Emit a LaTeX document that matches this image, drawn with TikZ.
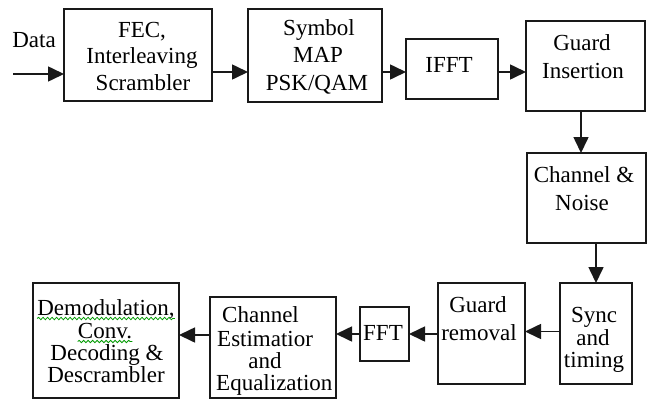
\documentclass[tikz,border=0pt]{standalone}
\usepackage{fontspec}
\setmainfont{Liberation Serif}
\usetikzlibrary{arrows.meta,calc,decorations.pathmorphing}
\begin{document}
\begin{tikzpicture}[x=1pt,y=-1pt,
  box/.style={draw=black!90, line width=1.6pt, inner sep=0pt, outer sep=0pt},
  txt/.style={anchor=base, inner sep=0pt, font=\fontsize{23}{25}\selectfont, text=black},
  arr/.style={draw=black!90, line width=1.6pt, -{Triangle[length=16pt,width=15pt]}},
  squig/.style={draw=green!60!black, line width=0.8pt, decorate, decoration={snake, amplitude=1.2pt, segment length=4.5pt}}]
\useasboundingbox (0,0) rectangle (658,402);
% boxes
\node[box, minimum width=148pt, minimum height=92pt] (fec) at (138,55) {};
\node[box, minimum width=134pt, minimum height=93pt] (sym) at (315,55.5) {};
\node[box, minimum width=92pt, minimum height=60pt] (ifft) at (452,69) {};
\node[box, minimum width=119pt, minimum height=90pt] (gi) at (585.5,66) {};
\node[box, minimum width=119pt, minimum height=90pt] (ch) at (586.5,198) {};
\node[box, minimum width=72pt, minimum height=101pt] (sync) at (596,333.5) {};
\node[box, minimum width=87pt, minimum height=101pt] (gr) at (481.5,333.5) {};
\node[box, minimum width=49pt, minimum height=54pt] (fft) at (384.5,334) {};
\node[box, minimum width=126pt, minimum height=101pt] (ce) at (273,347.5) {};
\node[box, minimum width=146pt, minimum height=115pt] (dm) at (106,340.5) {};
% texts
\node[txt] (tdata) at (34,47) {Data};
\coordinate (din) at (13,74);
\node[txt] (t1a) at (142,37) {FEC,};
\node[txt] (t1b) at (142,63) {Interleaving};
\node[txt] (t1c) at (143,90) {Scrambler};
\node[txt] (t2a) at (319,35) {Symbol};
\node[txt] (t2b) at (318,62) {MAP};
\node[txt] (t2c) at (317,90) {PSK/QAM};
\node[txt] (t3) at (449,72) {IFFT};
\node[txt] (t4a) at (582,50) {Guard};
\node[txt] (t4b) at (583,78) {Insertion};
\node[txt] (t5a) at (584,182) {Channel \&};
\node[txt] (t5b) at (582,210) {Noise};
\node[txt] (t6a) at (594,322) {Sync};
\node[txt] (t6b) at (593,345) {and};
\node[txt] (t6c) at (594,367) {timing};
\node[txt] (t7a) at (478,312) {Guard};
\node[txt] (t7b) at (479,340) {removal};
\node[txt] (t8) at (383,340) {FFT};
\node[txt, anchor=base west] (t9a) at (222,322) {Channel};
\node[txt, anchor=base west] (t9b) at (217,346) {Estimatior};
\node[txt] (t9c) at (265,368) {and};
\node[txt, anchor=base west] (t9d) at (216,390) {Equalization};
\node[txt] (t10a) at (106,315) {Demodulation,};
\node[txt] (t10b) at (105,338) {Conv.};
\node[txt] (t10c) at (107,360) {Decoding \&};
\node[txt] (t10d) at (106,382) {Descrambler};
\draw[squig] ([yshift=-3.5pt]t10a.base west) -- ([yshift=-3.5pt]t10a.base east);
\draw[squig] ([yshift=-3.5pt]t10b.base west) -- ([yshift=-3.5pt]t10b.base east);
% arrows
\draw[arr] (din) -- (din -| fec.west);
\draw[arr] ([yshift=-17pt]fec.east) -- ([yshift=-17pt]fec.east -| sym.west);
\draw[arr] ([yshift=-3pt]ifft.west -| sym.east) -- ([yshift=-3pt]ifft.west);
\draw[arr] ([yshift=-3pt]ifft.east) -- ([yshift=-3pt]ifft.east -| gi.west);
\draw[arr] ([xshift=-4.5pt]gi.south) -- ([xshift=-4.5pt]gi.south |- ch.north);
\draw[arr] (ch.south -| sync.north) -- (sync.north);
\draw[arr] ([yshift=2pt]sync.west) -- ([yshift=2pt]sync.west -| gr.east);
\draw[arr] (gr.west |- fft.west) -- (fft.east);
\draw[arr] (fft.west) -- (fft.west -| ce.east);
\draw[arr] ([yshift=-1pt]ce.west |- fft.west) -- ([yshift=-1pt]fft.west -| dm.east);
\end{tikzpicture}
\end{document}
